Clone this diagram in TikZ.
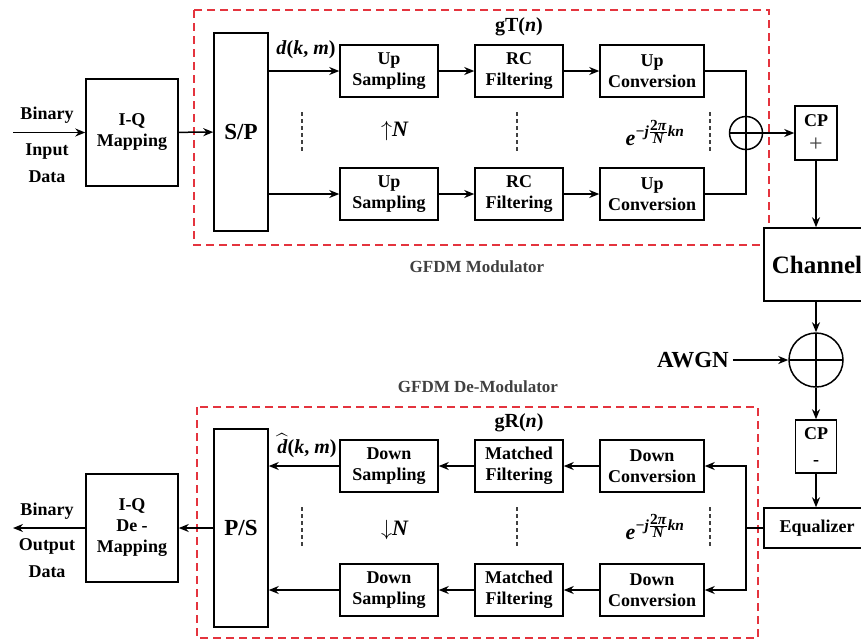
\documentclass[tikz,border=0pt]{standalone}
\usepackage{fix-cm}
\usepackage{amsmath}
\usepackage{fontspec}
\setmainfont{Liberation Serif}
\usetikzlibrary{arrows.meta, positioning}

\definecolor{framered}{RGB}{228,52,62}
\newcommand{\boxfont}{\fontsize{18}{21}\selectfont\bfseries}
\newcommand{\bigfont}{\fontsize{23}{26}\selectfont\bfseries}
\newcommand{\bi}[1]{\textbf{\textit{#1}}}
\newcommand{\carrier}{$\bi{e}^{\bi{−j}\frac{\scriptstyle\textbf{2}\bi{π}}{\scriptstyle\bi{N}}\bi{kn}}$}

\begin{document}
\begin{tikzpicture}[
    x=1pt, y=-1pt,
    block/.style={rectangle, draw, line width=1.5pt, fill=white, text centered, align=center, inner sep=0pt, font=\boxfont},
    lane/.style={block, minimum width=98pt, minimum height=52pt},
    arrow/.style={-{Stealth[length=10pt, width=8pt]}, line width=1.5pt},
    link/.style={line width=1.5pt},
    frame/.style={draw=framered, line width=1.4pt, dash pattern=on 8pt off 5pt},
    dots/.style={draw=black!75, line width=2pt, dash pattern=on 4pt off 3pt},
    adder/.style={circle, draw, line width=1.5pt, fill=white, inner sep=0pt, path picture={
        \draw[line width=1.5pt] (path picture bounding box.north) -- (path picture bounding box.south)
            (path picture bounding box.west) -- (path picture bounding box.east);}},
    label/.style={font=\fontsize{20}{22}\selectfont\bfseries, inner sep=1pt}
]

\useasboundingbox (0,0) rectangle (861,641);

\draw[frame] (194,10) rectangle (769,245);
\draw[frame] (197,407) rectangle (758,638);


\coordinate (in_start) at (13,132.5);
\coordinate (out_end) at (13,528);
\coordinate (split) at (746,528);


\node[block, minimum width=92pt, minimum height=107pt] (iq_map) at (132,132.5) {I-Q\\Mapping};
\node[block, minimum width=54pt, minimum height=198pt, font=\bigfont] (sp_block) at (241,132) {S/P};

\node[lane] (up_samp1) at (389,71) {Up\\Sampling};
\node[lane, minimum width=88pt] (rc_filt1) at (519,71) {RC\\Filtering};
\node[lane, minimum width=104pt] (up_conv1) at (652,71) {Up\\Conversion};

\node[lane] (up_samp2) at (389,194) {Up\\Sampling};
\node[lane, minimum width=88pt] (rc_filt2) at (519,194) {RC\\Filtering};
\node[lane, minimum width=104pt] (up_conv2) at (652,194) {Up\\Conversion};

\node[adder, minimum size=33pt] (sum_tx) at (746,133) {};
\node[block, minimum width=42pt, minimum height=54pt] (cp_add) at (816,133) {CP\\[4pt]{\fontsize{24}{24}\selectfont\mdseries\color{black!75}+}};
\node[block, minimum width=106pt, minimum height=73pt, font=\fontsize{25}{28}\selectfont\bfseries] (channel) at (817,264.5) {Channel};

\node[adder, minimum size=54pt] (sum_noise) at (816,360) {};
\node[font=\bigfont, inner sep=4pt] (awgn) at (693,360) {AWGN};
\node[block, minimum width=41pt, minimum height=53pt] (cp_rem) at (816,446.5) {CP\\[5pt]-};
\node[block, minimum width=106pt, minimum height=40pt] (equalizer) at (817,528) {Equalizer};

\node[lane, minimum width=104pt] (down_conv1) at (652,466) {Down\\Conversion};
\node[lane, minimum width=88pt] (match_filt1) at (519,466) {Matched\\Filtering};
\node[lane] (down_samp1) at (389,466) {Down\\Sampling};

\node[lane, minimum width=104pt] (down_conv2) at (652,590) {Down\\Conversion};
\node[lane, minimum width=88pt] (match_filt2) at (519,590) {Matched\\Filtering};
\node[lane] (down_samp2) at (389,590) {Down\\Sampling};

\node[block, minimum width=54pt, minimum height=198pt, font=\bigfont] (ps_block) at (241,528) {P/S};
\node[block, minimum width=92pt, minimum height=108pt] (iq_demap) at (132,528) {I-Q\\De -\\Mapping};


\node[label, font=\boxfont] (in_binary) at (47,115) {Binary};
\node[label, align=center, font=\fontsize{18}{27}\selectfont\bfseries] (in_data) at (47,163) {Input\\Data};
\node[label, font=\boxfont] (out_binary) at (47,511) {Binary};
\node[label, align=center, font=\fontsize{18}{27}\selectfont\bfseries] (out_data) at (47,558) {Output\\Data};

\node[label] (dkm) at (306,50) {\bi{d}(\bi{k}, \bi{m})};
\node[label] (dhat) at (307,446) {$\widehat{\bi{d}}$(\bi{k}, \bi{m})};
\node[label] (gt) at (519,27) {gT(\bi{n})};
\node[label] (gr) at (519,423) {gR(\bi{n})};
\node[label, font=\fontsize{22}{24}\selectfont\bfseries] (upn) at (395,131) {$\uparrow$\bi{N}};
\node[label, font=\fontsize{22}{24}\selectfont\bfseries] (downn) at (395,530) {$\downarrow$\bi{N}};
\node[label, font=\fontsize{22}{24}\selectfont\bfseries] (exp_tx) at (655,133) {\carrier};
\node[label, font=\fontsize{22}{24}\selectfont\bfseries] (exp_rx) at (655,527) {\carrier};

\node[font=\fontsize{17}{20}\selectfont\bfseries, text=black!75] (mod_title) at (477,267) {GFDM Modulator};
\node[font=\fontsize{17}{20}\selectfont\bfseries, text=black!75] (demod_title) at (478,387) {GFDM De-Modulator};


\draw[dots] (302,112) -- (302,153);
\draw[dots] (517,112) -- (517,153);
\draw[dots] (710,112) -- (710,153);
\draw[dots] (302,507) -- (302,548);
\draw[dots] (517,507) -- (517,548);
\draw[dots] (710,507) -- (710,548);


\draw[arrow] (in_start) -- (iq_map.west);
\draw[arrow] (iq_map) -- (sp_block);
\draw[arrow] (sp_block.east |- up_samp1.west) -- (up_samp1.west);
\draw[arrow] (sp_block.east |- up_samp2.west) -- (up_samp2.west);
\draw[arrow] (up_samp1) -- (rc_filt1);
\draw[arrow] (rc_filt1) -- (up_conv1);
\draw[arrow] (up_samp2) -- (rc_filt2);
\draw[arrow] (rc_filt2) -- (up_conv2);
\draw[link] (up_conv1.east) -| (sum_tx.north);
\draw[link] (up_conv2.east) -| (sum_tx.south);
\draw[arrow] (sum_tx) -- (cp_add);
\draw[arrow] (cp_add) -- (cp_add |- channel.north);


\draw[arrow] (channel.south -| sum_noise) -- (sum_noise);
\draw[arrow] (awgn) -- (sum_noise);
\draw[arrow] (sum_noise) -- (cp_rem);
\draw[arrow] (cp_rem) -- (cp_rem |- equalizer.north);
\draw[link] (equalizer.west) -- (split);
\draw[arrow] (split) |- (down_conv1.east);
\draw[arrow] (split) |- (down_conv2.east);
\draw[arrow] (down_conv1) -- (match_filt1);
\draw[arrow] (match_filt1) -- (down_samp1);
\draw[arrow] (down_conv2) -- (match_filt2);
\draw[arrow] (match_filt2) -- (down_samp2);
\draw[arrow] (down_samp1.west) -- (ps_block.east |- down_samp1.west);
\draw[arrow] (down_samp2.west) -- (ps_block.east |- down_samp2.west);
\draw[arrow] (ps_block) -- (iq_demap);
\draw[arrow] (iq_demap.west) -- (out_end);

\end{tikzpicture}
\end{document}
